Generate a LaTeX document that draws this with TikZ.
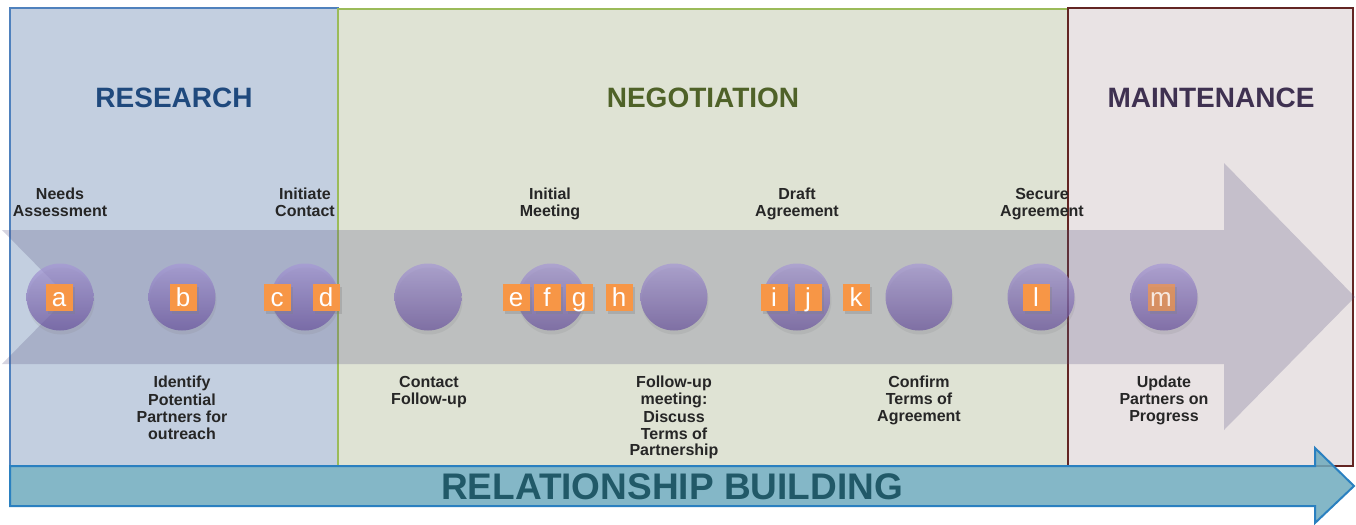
\documentclass[tikz,border=0pt]{standalone}
\usepackage{fontspec}
\setmainfont{Liberation Sans}
\usetikzlibrary{shadows}
\definecolor{researchfill}{RGB}{195,207,224}
\definecolor{researchline}{RGB}{79,129,189}
\definecolor{researchtext}{RGB}{31,73,125}
\definecolor{negofill}{RGB}{223,227,212}
\definecolor{negoline}{RGB}{155,187,89}
\definecolor{negotext}{RGB}{79,98,40}
\definecolor{maintfill}{RGB}{233,227,228}
\definecolor{maintline}{RGB}{99,37,35}
\definecolor{mainttext}{RGB}{63,49,81}
\definecolor{flowfill}{RGB}{90,85,130}
\definecolor{stagetop}{RGB}{165,150,215}
\definecolor{stagebottom}{RGB}{100,75,155}
\definecolor{tagfill}{RGB}{247,150,70}
\definecolor{labeltext}{RGB}{38,38,38}
\definecolor{buildfill}{RGB}{110,170,189}
\definecolor{buildline}{RGB}{42,128,192}
\definecolor{buildtext}{RGB}{33,89,104}
\tikzset{
    phase/.style={line width=1pt},
    phasetitle/.style={inner sep=0pt, font=\bfseries\fontsize{14}{14}\selectfont}
}
\tikzset{
    stage/.style={circle, inner sep=0pt, minimum size=33.5pt, top color=stagetop, bottom color=stagebottom, fill opacity=.65,
        drop shadow={shadow xshift=.5pt, shadow yshift=-2pt, opacity=.15}},
    tag/.style={rectangle, inner sep=0pt, minimum size=13.5pt, fill=tagfill, text=white, text height=10.5pt, text depth=1.5pt,
        font=\fontsize{13}{13}\selectfont, drop shadow={shadow xshift=1pt, shadow yshift=-1.5pt, opacity=.3}}
}
\tikzset{
    steptext/.style={inner sep=0pt, align=center, anchor=north, text=labeltext, font=\bfseries\fontsize{8}{8.5}\selectfont},
    build/.style={line width=1pt, draw=buildline, fill=buildfill, fill opacity=.85},
    buildtitle/.style={inner sep=0pt, text=buildtext, font=\bfseries\fontsize{18.5}{18.5}\selectfont}
}

\begin{document}
\begin{tikzpicture}[x=0.5pt, y=-0.5pt]
  \useasboundingbox (0,0) rectangle (1356,525);

  \filldraw [phase, fill=researchfill, draw=researchline] (10,8) rectangle (338,466);
  \filldraw [phase, fill=negofill, draw=negoline] (338,9) rectangle (1068,466);
  \filldraw [phase, fill=maintfill, draw=maintline] (1068,8) rectangle (1353,466);

  \node (research) [phasetitle, text=researchtext] at (174,98) {RESEARCH};
  \node (negotiation) [phasetitle, text=negotext] at (703,98) {NEGOTIATION};
  \node (maintenance) [phasetitle, text=mainttext] at (1211,98) {MAINTENANCE};

  \fill [flowfill, fill opacity=.25] (2,230) -- (1224,230) -- (1224,163) -- (1355,297) -- (1224,430) -- (1224,364) -- (2,364) -- (68,297) -- cycle;

  \node (s1) [stage] at (60,297) {};
  \node (s2) [stage] at (182,297) {};
  \node (s3) [stage] at (305,297) {};
  \node (s4) [stage] at (428,297) {};
  \node (s5) [stage] at (551,297) {};
  \node (s6) [stage] at (674,297) {};
  \node (s7) [stage] at (797,297) {};
  \node (s8) [stage] at (919,297) {};
  \node (s9) [stage] at (1041,297) {};
  \node (s10) [stage] at (1164,297) {};

  \node (ta) [tag] at (59,297) {a};
  \node (tb) [tag] at (183,297) {b};
  \node (tc) [tag] at (277,297) {c};
  \node (td) [tag] at (326,297) {d};
  \node (te) [tag] at (516,297) {e};
  \node (tf) [tag] at (547,297) {f};
  \node (tg) [tag] at (579,297) {g};
  \node (th) [tag] at (619,297) {h};
  \node (ti) [tag] at (774,297) {i};
  \node (tj) [tag] at (808,297) {j};
  \node (tk) [tag] at (856,297) {k};
  \node (tl) [tag] at (1036,297) {l};
  \node (tm) [tag, fill opacity=.7, text opacity=.8] at (1161,297) {m};

  \node (needs) [steptext] at (60,188) {Needs\\Assessment};
  \node (initiate) [steptext] at (305,188) {Initiate\\Contact};
  \node (meeting) [steptext] at (550,188) {Initial\\Meeting};
  \node (draft) [steptext] at (797,188) {Draft\\Agreement};
  \node (secure) [steptext] at (1042,188) {Secure\\Agreement};

  \node (identify) [steptext] at (182,376) {Identify\\Potential\\Partners for\\outreach};
  \node (contact) [steptext] at (429,376) {Contact\\Follow-up};
  \node (followup) [steptext] at (674,376) {Follow-up\\meeting:\\Discuss\\Terms of\\Partnership};
  \node (confirm) [steptext] at (919,376) {Confirm\\Terms of\\Agreement};
  \node (update) [steptext] at (1164,376) {Update\\Partners on\\Progress};

  \filldraw [build] (10,466) -- (1315,466) -- (1315,448) -- (1354,486) -- (1315,523) -- (1315,506) -- (10,506) -- cycle;
  \node (relation) [buildtitle] at (672,487) {RELATIONSHIP BUILDING};
\end{tikzpicture}
\end{document}
